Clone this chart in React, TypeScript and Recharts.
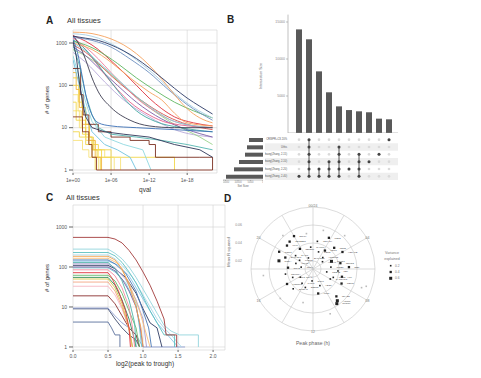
import {
  LineChart, Line, XAxis, YAxis, CartesianGrid, BarChart, Bar, ScatterChart, Scatter,
  ReferenceArea, ReferenceLine, RadarChart, PolarGrid, PolarAngleAxis, LabelList,
} from "recharts";

type Pt = [number, number];

// ---- panel A: genes passing each qval cut-off (x = -log10 qval) ----
const aOrange: Pt[] = [[0, 1800], [2, 1750], [4, 1550], [6, 1250], [8, 900], [10, 560], [12, 300], [14, 140], [16, 60], [18, 28], [20, 17], [22, 13]];
const aOrange2: Pt[] = [[0, 1000], [3, 700], [6, 350], [9, 150], [12, 70], [14, 45], [16, 22], [18, 13], [22, 11]];
const aNavy: Pt[] = [[0, 1450], [2, 1300], [4, 1150], [6, 900], [8, 650], [10, 430], [12, 260], [14, 150], [16, 85], [18, 50], [20, 32], [22, 21]];
const aSteel: Pt[] = [[0, 1350], [3, 1150], [6, 800], [9, 420], [12, 200], [15, 80], [18, 35], [22, 15]];
const aLightBlue: Pt[] = [[0, 1650], [2, 1550], [4, 1300], [7, 800], [10, 400], [13, 170], [16, 65], [19, 30], [22, 17]];
const aGreen: Pt[] = [[0, 1100], [2, 900], [4, 650], [7, 330], [10, 150], [13, 75], [16, 40], [19, 25], [22, 17]];
const aLightGreen: Pt[] = [[0, 700], [3, 400], [6, 180], [9, 70], [12, 30], [16, 12], [20, 6], [22, 4]];
const aRed: Pt[] = [[0, 1500], [2, 1100], [4, 700], [6, 380], [8, 200], [10, 100], [12, 50], [14, 28], [16, 18], [19, 13], [22, 11]];
const aPink: Pt[] = [[0, 1300], [2, 800], [4, 420], [6, 200], [8, 100], [10, 50], [13, 24], [16, 14], [22, 10]];
const aRed2: Pt[] = [[0, 900], [2, 600], [4, 330], [6, 170], [9, 70], [12, 33], [15, 18], [18, 12], [22, 9]];
const aPurple: Pt[] = [[0, 800], [2, 500], [4, 260], [7, 100], [10, 40], [14, 16], [18, 9], [22, 6]];
const aLavender: Pt[] = [[0, 600], [2, 350], [5, 120], [8, 45], [12, 18], [16, 9], [22, 6]];
const aTeal: Pt[] = [[0, 1200], [2, 700], [4, 300], [6, 120], [8, 50], [10, 25], [13, 14], [17, 10], [22, 8]];
const aCyan: Pt[] = [[0, 1000], [2, 650], [4, 350], [7, 140], [10, 55], [13, 25], [16, 14], [22, 10]];
const aDark: Pt[] = [[0, 1500], [1, 900], [2, 400], [3, 150], [4, 70], [6, 30], [9, 15], [12, 11], [16, 10], [22, 10]];
const aMagenta: Pt[] = [[0, 1400], [1, 1000], [3, 450], [5, 180], [7, 80], [9, 40], [12, 20], [15, 13], [22, 10]];
const aBlueFast: Pt[] = [[0, 1200], [0.7, 600], [1.5, 150], [2.2, 45], [3, 20], [4, 13], [6, 11], [10, 10], [16, 9], [22, 8]];
const aTealFast: Pt[] = [[0, 900], [1, 300], [2, 60], [3, 20], [4, 10], [6, 7], [10, 6], [14, 5], [18, 4], [22, 3]];
const aNavyFast: Pt[] = [[0, 1100], [0.5, 500], [1, 120], [1.5, 40], [2, 18], [3, 10], [5, 8], [8, 7], [12, 6], [16, 4], [20, 3], [22, 2]];
const aBrown: Pt[] = [[0, 250], [0.8, 250], [1.2, 60], [1.6, 20], [2.5, 12], [4, 8], [6, 6], [9, 5], [12, 4], [13, 2], [20, 2], [22, 1]];
const aBrown2: Pt[] = [[0, 18], [1, 18], [1.5, 8], [2.5, 4], [3, 2], [3.7, 1], [22, 1]];
const aCyan2: Pt[] = [[0, 500], [1, 150], [2, 40], [3, 14], [5, 6], [8, 4], [11, 3], [12.3, 1]];
const aSky: Pt[] = [[0, 400], [1, 100], [2, 25], [3, 8], [5, 4], [7, 3], [9, 2], [10, 1]];
const aYellow1: Pt[] = [[0, 150], [0.6, 150], [1, 60], [1.4, 30], [2, 12], [2.6, 6], [3.2, 3], [3.8, 2], [4.3, 1]];
const aYellow2: Pt[] = [[0, 100], [0.5, 100], [0.9, 40], [1.5, 15], [2, 6], [3, 3], [4.5, 2], [6, 1]];
const aYellow3: Pt[] = [[0, 60], [0.8, 25], [1.3, 10], [2, 5], [3, 3], [4, 2], [7.5, 1]];
const aYellow4: Pt[] = [[0, 40], [0.5, 15], [1.5, 7], [2.5, 4], [4, 3], [6, 2], [13, 2], [16, 1]];
const aYellow5: Pt[] = [[0, 25], [1, 10], [2, 5], [3.5, 3], [5, 2], [6.5, 1]];
const aYellow6: Pt[] = [[0, 8], [1, 6], [2, 4], [3, 2], [3.5, 1]];
const aYellow7: Pt[] = [[0, 5], [1.5, 3], [2.5, 2], [4, 1]];
const aGold: Pt[] = [[0, 200], [0.5, 80], [1, 30], [1.5, 12], [2.5, 5], [3.5, 2], [4.5, 1]];

const aSeries = [
  { c: "#f7e27a", t: "stepAfter", d: aYellow7 },
  { c: "#f2d64b", t: "stepAfter", d: aYellow6 },
  { c: "#f7e27a", t: "stepAfter", d: aYellow5 },
  { c: "#f2d64b", t: "stepAfter", d: aYellow4 },
  { c: "#f7e27a", t: "stepAfter", d: aYellow3 },
  { c: "#f2d64b", t: "stepAfter", d: aYellow2 },
  { c: "#efcf3c", t: "stepAfter", d: aYellow1 },
  { c: "#f0b840", t: "stepAfter", d: aGold },
  { c: "#6fc3df", t: "linear", d: aSky },
  { c: "#8fd8e0", t: "linear", d: aCyan2 },
  { c: "#8c3b2a", t: "stepAfter", d: aBrown2 },
  { c: "#7a2e1f", t: "stepAfter", d: aBrown },
  { c: "#b8a9d9", t: "monotone", d: aLavender },
  { c: "#9ad28a", t: "monotone", d: aLightGreen },
  { c: "#7b5ea7", t: "monotone", d: aPurple },
  { c: "#d9534f", t: "monotone", d: aRed2 },
  { c: "#f07b9c", t: "monotone", d: aPink },
  { c: "#e85d8a", t: "monotone", d: aMagenta },
  { c: "#e0323c", t: "monotone", d: aRed },
  { c: "#3fa7a0", t: "monotone", d: aTeal },
  { c: "#7fd1d6", t: "monotone", d: aCyan },
  { c: "#5fb760", t: "monotone", d: aGreen },
  { c: "#f5a25d", t: "monotone", d: aOrange2 },
  { c: "#55b5b0", t: "linear", d: aTealFast },
  { c: "#3b6fb6", t: "monotone", d: aBlueFast },
  { c: "#2d3457", t: "linear", d: aNavyFast },
  { c: "#3b3b4f", t: "monotone", d: aDark },
  { c: "#6c8ebf", t: "monotone", d: aSteel },
  { c: "#a6cee3", t: "monotone", d: aLightBlue },
  { c: "#f5a25d", t: "monotone", d: aOrange },
  { c: "#2b3a67", t: "monotone", d: aNavy },
];

// ---- panel C: genes above each log2(peak to trough) cut-off ----
const cDarkRed: Pt[] = [[0, 550], [0.5, 550], [0.6, 500], [0.7, 400], [0.8, 260], [0.9, 150], [1.0, 75], [1.1, 35], [1.2, 14], [1.3, 5], [1.33, 2], [1.48, 2], [1.48, 1]];
const cLightCyan: Pt[] = [[0, 280], [0.5, 280], [0.6, 220], [0.7, 160], [0.8, 100], [0.9, 55], [1.0, 28], [1.1, 14], [1.2, 7], [1.3, 3.5], [1.4, 2.5], [1.52, 2], [1.79, 2], [1.79, 1]];
const cTeal2: Pt[] = [[0, 230], [0.5, 230], [0.6, 190], [0.7, 130], [0.8, 75], [0.9, 40], [1.0, 18], [1.1, 8], [1.2, 4], [1.3, 2], [1.45, 2], [1.45, 1]];
const cSky2: Pt[] = [[0, 200], [0.5, 200], [0.6, 160], [0.7, 110], [0.85, 55], [1.0, 20], [1.1, 10], [1.2, 5], [1.3, 3], [1.4, 2], [1.55, 1]];
const cOrange: Pt[] = [[0, 185], [0.5, 185], [0.6, 150], [0.7, 90], [0.8, 35], [0.9, 10], [0.97, 3], [1.0, 1]];
const cLightOrange: Pt[] = [[0, 165], [0.5, 165], [0.65, 120], [0.8, 40], [0.95, 8], [1.05, 2], [1.1, 1]];
const cBlue: Pt[] = [[0, 150], [0.5, 150], [0.6, 120], [0.75, 70], [0.9, 25], [1.0, 8], [1.08, 3], [1.12, 1]];
const cSky: Pt[] = [[0, 140], [0.5, 140], [0.65, 110], [0.8, 60], [0.95, 22], [1.1, 8], [1.2, 4], [1.35, 2], [1.5, 1]];
const cTeal: Pt[] = [[0, 130], [0.5, 130], [0.6, 90], [0.7, 45], [0.8, 15], [0.88, 4], [0.9, 1]];
const cLavender: Pt[] = [[0, 120], [0.5, 120], [0.6, 95], [0.75, 50], [0.9, 15], [1.0, 5], [1.05, 1]];
const cNavy: Pt[] = [[0, 110], [0.5, 110], [0.6, 90], [0.75, 55], [0.9, 22], [1.0, 9], [1.1, 4], [1.2, 3], [1.27, 1]];
const cPurple: Pt[] = [[0, 100], [0.5, 100], [0.6, 80], [0.7, 50], [0.8, 25], [0.9, 10], [0.95, 4], [1.0, 1]];
const cCyan: Pt[] = [[0, 95], [0.5, 95], [0.6, 75], [0.75, 40], [0.9, 12], [0.95, 3], [0.98, 1]];
const cPink: Pt[] = [[0, 85], [0.5, 85], [0.6, 60], [0.7, 30], [0.8, 10], [0.85, 3], [0.88, 1]];
const cRed: Pt[] = [[0, 72], [0.5, 72], [0.55, 55], [0.65, 25], [0.75, 8], [0.8, 3], [0.82, 1]];
const cGreen: Pt[] = [[0, 62], [0.5, 62], [0.6, 45], [0.7, 22], [0.8, 8], [0.9, 3], [0.95, 1]];
const cDarkGreen: Pt[] = [[0, 55], [0.5, 55], [0.6, 35], [0.7, 15], [0.8, 5], [0.86, 2], [0.9, 1]];
const cOlive: Pt[] = [[0, 50], [0.5, 50], [0.6, 30], [0.7, 12], [0.78, 4], [0.85, 1]];
const cPeach: Pt[] = [[0, 42], [0.5, 42], [0.6, 25], [0.7, 10], [0.8, 3], [0.85, 1]];
const cLightPink: Pt[] = [[0, 33], [0.5, 33], [0.6, 20], [0.7, 9], [0.8, 3], [0.84, 1]];
const cDarkRed2: Pt[] = [[0, 19], [0.5, 19], [0.6, 12], [0.7, 6], [0.8, 3], [0.9, 2], [0.95, 1]];
const cPeri: Pt[] = [[0, 9.4], [0.5, 9.4], [0.6, 6], [0.7, 4], [0.8, 3], [0.9, 2], [1.0, 1], [1.6, 1]];
const cDarkSlate: Pt[] = [[0, 9], [0.5, 9], [0.6, 5], [0.7, 3], [0.8, 2], [0.9, 1.5], [0.95, 1]];
const cSlate: Pt[] = [[0, 4.2], [0.5, 4.2], [0.55, 3], [0.6, 2], [0.67, 2], [0.67, 1]];

const cSeries = [
  { c: "#5a6f9c", d: cSlate },
  { c: "#3d4a6b", d: cDarkSlate },
  { c: "#8f9fd1", d: cPeri },
  { c: "#8b2f2f", d: cDarkRed2 },
  { c: "#f7b6c2", d: cLightPink },
  { c: "#f4a582", d: cPeach },
  { c: "#d6c84a", d: cOlive },
  { c: "#2e8b57", d: cDarkGreen },
  { c: "#66bb6a", d: cGreen },
  { c: "#e0323c", d: cRed },
  { c: "#f28ba0", d: cPink },
  { c: "#6ccad0", d: cCyan },
  { c: "#7d5ba6", d: cPurple },
  { c: "#2e3b63", d: cNavy },
  { c: "#a79bd0", d: cLavender },
  { c: "#4fb3a9", d: cTeal },
  { c: "#86c5e8", d: cSky },
  { c: "#4a78b5", d: cBlue },
  { c: "#f9c07a", d: cLightOrange },
  { c: "#f5a04a", d: cOrange },
  { c: "#a8d8ea", d: cSky2 },
  { c: "#5bc0be", d: cTeal2 },
  { c: "#93d5dc", d: cLightCyan },
  { c: "#a33b3b", d: cDarkRed },
];

// ---- panel B: upset plot ----
const bIntersections = [14000, 12660, 8330, 5500, 3600, 3100, 2930, 2800, 1940, 1850];
const bSets = ["CRISPR+CS 20%", "Uthis", "Hoang(Zhang, 2-15)", "Hoang(Zhang, 2-10)", "Hoang(Zhang, 2-20)", "Hoang(Zhang, 2-40)"];
const bSetSizes = [5600, 6400, 7200, 9600, 11600, 14800];
const bMembers = [[6], [1, 2, 3, 4, 5, 6], [5, 6], [4, 5, 6], [2, 3, 4, 5, 6], [5], [3, 4, 5, 6], [4], [3], [1]];

// ---- panel D: peak phase vs mean R squared ----
const dGenes = ["ARNTL", "CLOCK", "NPAS2", "PER3", "PER1", "PER2", "NR1D1", "NR1D2", "DBP", "TEF", "HLF", "BHLHE40", "BHLHE41", "CIART", "CRY1", "CRY2", "NFIL3", "RORA", "RORC", "TSC22D3", "FKBP5", "ZBTB16", "KLF9", "KLF15", "CDKN1A", "TXNIP", "DDIT4", "PDK4", "SESN1", "SGK1", "HES1", "MT2A", "PDE4B", "FMO2", "HSPA1B", "HSPH1", "CIRBP", "RBM3", "USP2", "TSPAN4", "NAMPT", "LONRF3", "SLC2A3", "ARRDC2", "GADD45G"];
const dPhase = [9.5, 9.7, 9.3, 3.0, 2.2, 1.2, 4.5, 5.2, 5.8, 6.3, 7.0, 22.5, 19.5, 20.5, 15.8, 18.2, 16.5, 18.9, 19.8, 21.3, 20.2, 21.8, 20.8, 19.2, 17.3, 14.5, 22.0, 18.6, 13.5, 12.3, 10.5, 11.2, 6.8, 7.5, 4.0, 3.5, 5.6, 7.8, 1.8, 0.6, 23.6, 16.0, 15.0, 2.7, 8.0];
const dR2 = [0.0554, 0.0577, 0.051, 0.0443, 0.0354, 0.031, 0.0332, 0.0421, 0.051, 0.0388, 0.0443, 0.0243, 0.0443, 0.0354, 0.0277, 0.0388, 0.0354, 0.0499, 0.0532, 0.051, 0.0288, 0.0377, 0.0499, 0.031, 0.0421, 0.031, 0.0532, 0.0243, 0.0332, 0.0243, 0.031, 0.0388, 0.0266, 0.0354, 0.0488, 0.0243, 0.031, 0.0466, 0.0499, 0.0421, 0.0354, 0.0443, 0.0421, 0.0277, 0.0332];
const dVar = [0.6, 0.6, 0.4, 0.4, 0.4, 0.2, 0.6, 0.4, 0.4, 0.2, 0.4, 0.2, 0.4, 0.2, 0.2, 0.4, 0.2, 0.6, 0.4, 0.4, 0.2, 0.4, 0.4, 0.2, 0.2, 0.2, 0.4, 0.2, 0.2, 0.2, 0.2, 0.4, 0.2, 0.2, 0.4, 0.2, 0.2, 0.4, 0.4, 0.2, 0.2, 0.4, 0.2, 0.2, 0.2];
const dBgPhase = [7.2, 7.4, 2.9, 13.1, 23.3, 10.6, 15.2, 21.2, 1.0, 17.5];
const dBgR2 = [0.0732, 0.0688, 0.0621, 0.0499, 0.051, 0.0643, 0.0599, 0.061, 0.0554, 0.0666];
const dHours = [0, 2, 4, 6, 8, 10, 12, 14, 16, 18, 20, 22];

const R0 = 0.011; // r value at the centre
const RMAX = 70 / 900;

const FONT = "'Liberation Sans', Arial, sans-serif";
const pts = (arr: Pt[]) => arr.map(([x, y]) => ({ x, y }));
const qFmt = (v: number) => (v === 0 ? "1e+00" : `1e-${String(v).padStart(2, "0")}`);

function toXY(h: number, v: number) {
  const a = (h / 24) * Math.PI * 2;
  const r = v - R0;
  return { x: r * Math.sin(a), y: r * Math.cos(a) };
}

const dPoints = dGenes.map((name, i) => ({ name, v: dVar[i], ...toXY(dPhase[i], dR2[i]) }));
const dBg = dBgPhase.map((h, i) => toXY(h, dBgR2[i]));

const matrixBg = bIntersections.flatMap((_, c) => [1, 2, 3, 4, 5, 6].map((r) => ({ x: c + 1, y: r })));
const barData = bIntersections.map((v, i) => ({ k: i + 1, v }));
const setData = bSets.map((name, i) => ({ name, size: bSetSizes[i] }));

const axisTick = { fontSize: 5, fill: "#555" };

function RowTick(p: any) {
  const row = p.payload.value;
  return (
    <g>
      {row % 2 === 0 && <rect x={p.x - 23} y={p.y - 3.67} width={23} height={7.33} fill="#efefef" />}
      <text x={p.x - 1} y={p.y} textAnchor="end" dominantBaseline="central" fontSize={2.6} fill="#555">
        {bSets[row - 1]}
      </text>
    </g>
  );
}

function PhaseTick(p: any) {
  const h = p.payload.value;
  if (h % 4 !== 0) return <g />;
  return (
    <text x={p.x} y={p.y} textAnchor="middle" dominantBaseline="central" fontSize={3.5} fill="#777">
      {h === 0 ? "00/24" : String(h).padStart(2, "0")}
    </text>
  );
}

function GeneDot(p: any) {
  const s = p.payload.v === 0.6 ? 3 : p.payload.v === 0.4 ? 2.3 : 1.6;
  return <rect x={p.cx - s / 2} y={p.cy - s / 2} width={s} height={s} fill="#222" />;
}

export default function App() {
  return (
    <div style={{ position: "absolute", left: 0, top: 0, width: 481, height: 378, background: "#fff", fontFamily: FONT }}>
      {/* A */}
      <div style={{ position: "absolute", left: 30, top: 25 }}>
        <LineChart width={190} height={168} margin={{ top: 5, right: 3, bottom: 0, left: 0 }}>
          <CartesianGrid stroke="#d2d2d2" strokeWidth={0.6} />
          <XAxis type="number" dataKey="x" domain={[0, 22.7]} ticks={[0, 6, 12, 18]} tickFormatter={qFmt} allowDataOverflow
            height={20} tick={axisTick} tickSize={2} tickMargin={3} axisLine={false} stroke="#666" />
          <YAxis type="number" scale="log" domain={[0.85, 2028]} ticks={[1, 10, 100, 1000]} allowDataOverflow
            width={43} tick={axisTick} tickSize={4} tickMargin={2} axisLine={false} stroke="#666" />
          {aSeries.map((s, i) => (
            <Line key={i} data={pts(s.d)} dataKey="y" type={s.t as any} stroke={s.c} strokeWidth={0.9} dot={false} isAnimationActive={false} />
          ))}
        </LineChart>
      </div>

      {/* C */}
      <div style={{ position: "absolute", left: 30, top: 200 }}>
        <LineChart width={198} height={170} margin={{ top: 5, right: 3, bottom: 0, left: 0 }}>
          <CartesianGrid stroke="#d2d2d2" strokeWidth={0.6} />
          <XAxis type="number" dataKey="x" domain={[0, 2.17]} ticks={[0, 0.5, 1, 1.5, 2]} tickFormatter={(v: number) => v.toFixed(1)} allowDataOverflow
            height={20} tick={axisTick} tickSize={2} tickMargin={2} axisLine={false} stroke="#666" />
          <YAxis type="number" scale="log" domain={[0.84, 3550]} ticks={[1, 10, 100, 1000]} allowDataOverflow
            width={43} tick={axisTick} tickSize={4} tickMargin={2} axisLine={false} stroke="#666" />
          {cSeries.map((s, i) => (
            <Line key={i} data={pts(s.d)} dataKey="y" type="linear" stroke={s.c} strokeWidth={0.9} dot={false} isAnimationActive={false} />
          ))}
        </LineChart>
      </div>

      {/* B: intersection sizes */}
      <div style={{ position: "absolute", left: 258, top: 10 }}>
        <BarChart width={145} height={123} data={barData} margin={{ top: 4.6, right: 5, bottom: 0, left: 0 }}>
          <XAxis dataKey="k" hide padding={{ left: 6, right: 4 }} />
          <YAxis type="number" domain={[0, 16000]} ticks={[0, 5000, 10000, 15000]} width={30}
            tick={{ fontSize: 3.5, fill: "#888" }} tickSize={2} tickMargin={1} stroke="#999" strokeWidth={0.6} />
          <ReferenceLine y={0} stroke="#999" strokeWidth={0.6} />
          <Bar dataKey="v" fill="#595959" barSize={6} isAnimationActive={false} />
        </BarChart>
      </div>

      {/* B: set sizes */}
      <div style={{ position: "absolute", left: 223, top: 135.5 }}>
        <BarChart width={40} height={52} data={setData} layout="vertical" margin={{ top: 0, right: 0, bottom: 0, left: 0 }}>
          <XAxis type="number" reversed domain={[0, 16000]} ticks={[0, 5000, 10000, 15000]} height={8} interval={0}
            tick={{ fontSize: 2.6, fill: "#888" }} tickSize={1} tickMargin={0.5} stroke="#999" strokeWidth={0.6} />
          <YAxis type="category" dataKey="name" hide width={0} />
          <Bar dataKey="size" fill="#595959" barSize={4} isAnimationActive={false} />
        </BarChart>
      </div>

      {/* B: matrix */}
      <div style={{ position: "absolute", left: 265, top: 135.5 }}>
        <ScatterChart width={133} height={44} margin={{ top: 0, right: 0, bottom: 0, left: 0 }}>
          <ReferenceArea y1={1.5} y2={2.5} fill="#efefef" fillOpacity={1} stroke="none" />
          <ReferenceArea y1={3.5} y2={4.5} fill="#efefef" fillOpacity={1} stroke="none" />
          <ReferenceArea y1={5.5} y2={6.5} fill="#efefef" fillOpacity={1} stroke="none" />
          <XAxis type="number" dataKey="x" domain={[-0.1, 10.9]} hide />
          <YAxis type="number" dataKey="y" domain={[0.5, 6.5]} reversed ticks={[1, 2, 3, 4, 5, 6]} width={23} interval={0}
            tick={RowTick} tickSize={0} tickMargin={0} axisLine={false} tickLine={false} />
          <Scatter data={matrixBg} fill="#d6d6d6" shape={(p: any) => <circle cx={p.cx} cy={p.cy} r={1.3} fill="#dadada" />} isAnimationActive={false} />
          {bMembers.map((rows, c) => (
            <Scatter key={c} data={rows.map((r) => ({ x: c + 1, y: r }))} line={{ stroke: "#444", strokeWidth: 0.9 }}
              shape={(p: any) => <circle cx={p.cx} cy={p.cy} r={1.5} fill="#444" />} isAnimationActive={false} />
          ))}
        </ScatterChart>
      </div>

      {/* D: polar grid */}
      <div style={{ position: "absolute", left: 243, top: 199 }}>
        <RadarChart width={140} height={140} cx={70} cy={70} outerRadius={62} data={dHours.map((h) => ({ h }))}
          margin={{ top: 0, right: 0, bottom: 0, left: 0 }}>
          <PolarGrid gridType="circle" polarRadius={[8, 26, 44, 62]} stroke="#c4c4c4" strokeWidth={0.6} />
          <PolarAngleAxis dataKey="h" tick={PhaseTick} tickSize={1} axisLine={false} tickLine={false} />
        </RadarChart>
      </div>

      {/* D: genes */}
      <div style={{ position: "absolute", left: 221, top: 199 }}>
        <ScatterChart width={162} height={140} margin={{ top: 0, right: 0, bottom: 0, left: 0 }}>
          <XAxis type="number" dataKey="x" domain={[-RMAX, RMAX]} hide />
          <YAxis type="number" dataKey="y" domain={[-RMAX, RMAX]} width={22} ticks={[0.02 - R0, 0.04 - R0, 0.06 - R0]}
            tickFormatter={(v: number) => (v + R0).toFixed(2)} tick={{ fontSize: 3.5, fill: "#888" }} interval={0}
            tickSize={0} tickMargin={1} axisLine={false} tickLine={false} />
          <Scatter data={dBg} shape={(p: any) => <rect x={p.cx - 0.8} y={p.cy - 0.8} width={1.6} height={1.6} fill="#bbb" />} isAnimationActive={false} />
          <Scatter data={dPoints} shape={GeneDot} isAnimationActive={false}>
            <LabelList dataKey="name" position="right" offset={1} fontSize={2.4} fill="#444" />
          </Scatter>
        </ScatterChart>
      </div>

      {/* free text */}
      <svg width={481} height={378} style={{ position: "absolute", left: 0, top: 0, pointerEvents: "none" }} fontFamily={FONT}>
        <text x={46} y={24} fontSize={10} fontWeight="bold" fill="#222">A</text>
        <text x={67} y={23} fontSize={7.5} fill="#333">All tissues</text>
        <text x={145} y={192} fontSize={6.5} fill="#333" textAnchor="middle">qval</text>
        <text transform="translate(49,100) rotate(-90)" fontSize={6} fill="#333" textAnchor="middle">{"# of genes"}</text>

        <text x={227} y={23} fontSize={10} fontWeight="bold" fill="#222">B</text>
        <text transform="translate(262,76) rotate(-90)" fontSize={3.5} fill="#666" textAnchor="middle">Intersection Size</text>
        <text x={243} y={187} fontSize={3} fill="#666" textAnchor="middle">Set Size</text>

        <text x={46} y={201} fontSize={10} fontWeight="bold" fill="#222">C</text>
        <text x={66} y={200} fontSize={7.5} fill="#333">All tissues</text>
        <text x={145} y={366} fontSize={6.5} fill="#333" textAnchor="middle">log2(peak to trough)</text>
        <text transform="translate(49,278) rotate(-90)" fontSize={6} fill="#333" textAnchor="middle">{"# of genes"}</text>

        <text x={224} y={202} fontSize={10} fontWeight="bold" fill="#222">D</text>
        <text transform="translate(230,252) rotate(-90)" fontSize={4} fill="#666" textAnchor="middle">Mean R squared</text>
        <text x={313} y={345} fontSize={5} fill="#666" textAnchor="middle">Peak phase (h)</text>
        <text x={392} y={254} fontSize={3.6} fill="#777" textAnchor="middle">Variance</text>
        <text x={392} y={260} fontSize={3.6} fill="#777" textAnchor="middle">explained</text>
        {[0.2, 0.4, 0.6].map((v, i) => {
          const s = v === 0.6 ? 3 : v === 0.4 ? 2.3 : 1.6;
          const y = 265.7 + i * 6.3;
          return (
            <g key={v}>
              <rect x={390.7 - s / 2} y={y - s / 2} width={s} height={s} fill="#222" />
              <text x={395} y={y} fontSize={3.2} fill="#777" dominantBaseline="central">{v.toFixed(1)}</text>
            </g>
          );
        })}
      </svg>
    </div>
  );
}
